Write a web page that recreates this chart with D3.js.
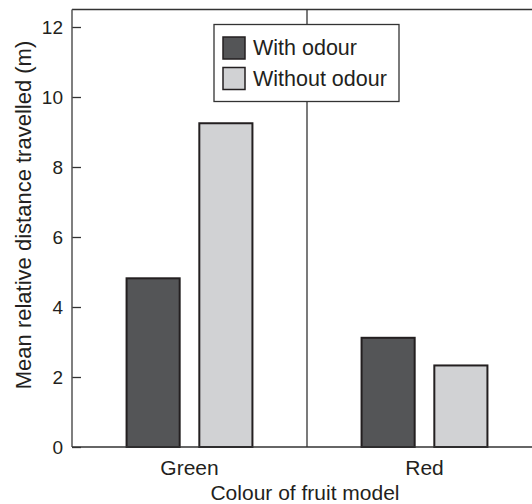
<!DOCTYPE html>
<html>
<head>
<meta charset="utf-8">
<script src="https://cdn.jsdelivr.net/npm/d3@7/dist/d3.min.js"></script>
<style>
  html, body { margin: 0; padding: 0; background: #fff; }
  svg { display: block; font-family: "Liberation Sans", Arial, sans-serif; }
</style>
</head>
<body>
<svg id="chart" width="532" height="504"></svg>
<script>
// Mean relative distance travelled by fruit model colour and odour treatment
const categories = ["Green", "Red"];
const seriesNames = ["With odour", "Without odour"];
const withOdour = [4.82, 3.12];
const withoutOdour = [9.25, 2.33];
const yTicks = [0, 2, 4, 6, 8, 10, 12];

const colours = ["#545557", "#d1d2d4"];
const stroke = "#231f20";
const ink = "#231f20";

const svg = d3.select("#chart");
const margin = { left: 72, bottom: 447 };
const xRight = 542;

const y = d3.scaleLinear().domain([0, 12.5]).range([margin.bottom, margin.bottom - 12.5 * 35]);
const x = d3.scaleBand().domain(categories).range([margin.left, xRight]).paddingInner(0).paddingOuter(0);
const inner = d3.scaleBand().domain(seriesNames).range([0, x.bandwidth()]).paddingInner(0.27).paddingOuter(0.75);

const rows = categories.map((c, i) => ({ cat: c, values: [withOdour[i], withoutOdour[i]] }));

// bars
const g = svg.append("g");
rows.forEach(r => {
  r.values.forEach((v, j) => {
    g.append("rect")
      .attr("x", x(r.cat) + inner(seriesNames[j]))
      .attr("y", y(v))
      .attr("width", inner.bandwidth())
      .attr("height", y(0) - y(v))
      .attr("fill", colours[j])
      .attr("stroke", stroke)
      .attr("stroke-width", 2);
  });
});

// frame: top line and divider between categories
svg.append("line")
  .attr("x1", margin.left).attr("x2", 532)
  .attr("y1", y(12.5)).attr("y2", y(12.5))
  .attr("stroke", "#333").attr("stroke-width", 1.5);
svg.append("line")
  .attr("x1", x("Red")).attr("x2", x("Red"))
  .attr("y1", y(12.5)).attr("y2", y(0))
  .attr("stroke", "#333").attr("stroke-width", 1.3);

// y axis with inward ticks
const yAxis = d3.axisRight(y).tickValues(yTicks).tickSize(9).tickFormat(d3.format("d"));
const ya = svg.append("g").attr("transform", `translate(${margin.left},0)`).call(yAxis);
ya.select(".domain").remove();
ya.selectAll(".tick line").attr("stroke", "#333").attr("stroke-width", 1.3);
ya.selectAll(".tick text")
  .attr("x", -9).attr("text-anchor", "end").attr("dy", "0.35em")
  .attr("font-size", 19).attr("fill", ink)
  .attr("font-family", "Liberation Sans, Arial, sans-serif");
svg.append("line")
  .attr("x1", margin.left).attr("x2", margin.left)
  .attr("y1", y(12.5)).attr("y2", y(0))
  .attr("stroke", "#555").attr("stroke-width", 1.5);

// x axis
const xAxis = d3.axisBottom(x).tickSize(0);
const xa = svg.append("g").attr("transform", `translate(0,${y(0)})`).call(xAxis);
xa.select(".domain").remove();
xa.selectAll(".tick text")
  .attr("y", 28).attr("dy", 0)
  .attr("font-size", 21).attr("fill", ink)
  .attr("font-family", "Liberation Sans, Arial, sans-serif");
svg.append("line")
  .attr("x1", margin.left).attr("x2", 532)
  .attr("y1", y(0)).attr("y2", y(0))
  .attr("stroke", "#333").attr("stroke-width", 1.5);

// axis titles
svg.append("text")
  .attr("x", 305).attr("y", 500)
  .attr("text-anchor", "middle")
  .attr("font-size", 21).attr("fill", ink)
  .text("Colour of fruit model");
svg.append("text")
  .attr("transform", "translate(31,215) rotate(-90)")
  .attr("text-anchor", "middle")
  .attr("font-size", 22).attr("fill", ink)
  .text("Mean relative distance travelled (m)");

// legend
const lg = svg.append("g").attr("transform", "translate(214,24.5)");
lg.append("rect").attr("width", 185).attr("height", 77)
  .attr("fill", "#fff").attr("stroke", "#333").attr("stroke-width", 1.3);
seriesNames.forEach((s, i) => {
  const row = lg.append("g").attr("transform", `translate(9,${12.5 + i * 30.5})`);
  row.append("rect").attr("width", 22).attr("height", 22)
    .attr("fill", colours[i]).attr("stroke", stroke).attr("stroke-width", 1.5);
  row.append("text").attr("x", 30).attr("y", 18)
    .attr("font-size", 21.5).attr("fill", ink)
    .text(s);
});
</script>
</body>
</html>
